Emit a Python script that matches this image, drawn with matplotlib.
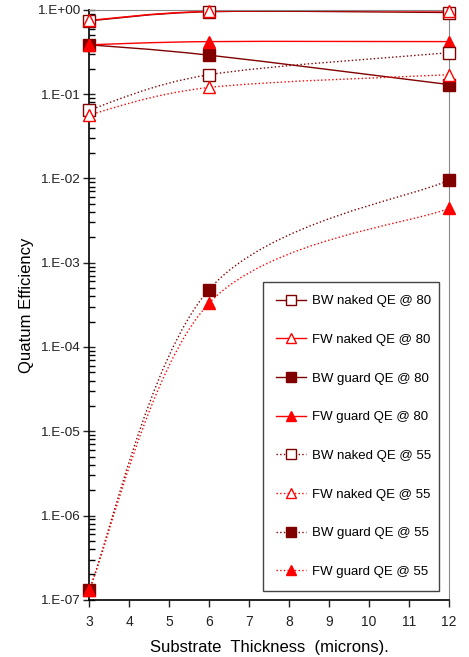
import matplotlib
matplotlib.use("Agg")
import matplotlib.pyplot as plt
from matplotlib.path import Path
from matplotlib.patches import PathPatch
from matplotlib.lines import Line2D
from matplotlib.ticker import FixedLocator, LogLocator, NullFormatter
import numpy as np

plt.rcParams['font.family'] = ['Liberation Sans', 'DejaVu Sans']

thickness = [3, 6, 12]
bw_naked_80 = [0.74, 0.95, 0.93]
fw_naked_80 = [0.75, 0.96, 0.97]
bw_guard_80 = [0.385, 0.29, 0.13]
fw_guard_80 = [0.385, 0.42, 0.42]
bw_naked_55 = [0.065, 0.17, 0.31]
fw_naked_55 = [0.057, 0.12, 0.17]
bw_guard_55 = [1.3e-7, 4.8e-4, 9.5e-3]
fw_guard_55 = [1.3e-7, 3.3e-4, 4.4e-3]

labels = ['BW naked QE @ 80', 'FW naked QE @ 80', 'BW guard QE @ 80', 'FW guard QE @ 80',
          'BW naked QE @ 55', 'FW naked QE @ 55', 'BW guard QE @ 55', 'FW guard QE @ 55']
series = [bw_naked_80, fw_naked_80, bw_guard_80, fw_guard_80,
          bw_naked_55, fw_naked_55, bw_guard_55, fw_guard_55]

dark = '#800000'
red = '#FF0000'
# color, marker, filled, linestyle
styles = [(dark, 's', False, '-'), (red, '^', False, '-'),
          (dark, 's', True, '-'), (red, '^', True, '-'),
          (dark, 's', False, ':'), (red, '^', False, ':'),
          (dark, 's', True, ':'), (red, '^', True, ':')]


def smooth_path(xs, ys):
    # excel style smoothed line: catmull-rom bezier in (x, log y)
    p = np.column_stack([xs, np.log10(ys)])
    verts = [p[0]]
    codes = [Path.MOVETO]
    n = len(p)
    for i in range(n - 1):
        p0 = p[max(i - 1, 0)]
        p1, p2 = p[i], p[i + 1]
        p3 = p[min(i + 2, n - 1)]
        c1 = p1 + (p2 - p0) / 6
        c2 = p2 - (p3 - p1) / 6
        verts += [c1, c2, p2]
        codes += [Path.CURVE4] * 3
    verts = np.array(verts)
    verts[:, 1] = 10 ** verts[:, 1]
    return Path(verts, codes)


fig = plt.figure(figsize=(4.69, 6.57), dpi=100)
ax = fig.add_axes([0.19, 0.087, 0.767, 0.898])
ax.set_yscale('log')
ax.set_xlim(3, 12)
ax.set_ylim(1e-7, 1)

handles = []
for ys, lab, (c, m, filled, ls) in zip(series, labels, styles):
    ax.add_patch(PathPatch(smooth_path(thickness, ys), fill=False, edgecolor=c,
                           linestyle=ls, linewidth=1.0, zorder=2))
    fc = c if filled else 'white'
    ax.plot(thickness, ys, ls='none', marker=m, ms=8.5, mfc=fc, mec=c,
            mew=1.0, zorder=3, clip_on=False)
    handles.append(Line2D([], [], color=c, ls=ls, lw=1.0, marker=m, ms=7,
                          mfc=fc, mec=c, label=lab))

ax.set_xticks(range(3, 13))
ax.yaxis.set_major_locator(FixedLocator([10.0 ** k for k in range(-7, 1)]))
ax.set_yticklabels(['1.E-07', '1.E-06', '1.E-05', '1.E-04', '1.E-03',
                    '1.E-02', '1.E-01', '1.E+00'])
ax.yaxis.set_minor_locator(LogLocator(base=10, subs=np.arange(2, 10)))
ax.yaxis.set_minor_formatter(NullFormatter())
ax.tick_params(axis='y', which='major', direction='inout', length=9, width=1,
               labelsize=9.7, colors='#222222', pad=2)
ax.tick_params(axis='y', which='minor', direction='in', length=4, width=1)
ax.tick_params(axis='x', direction='out', length=5, width=1, labelsize=10,
               colors='#222222', pad=6)

for s in ['top', 'right']:
    ax.spines[s].set_color('#888888')
for s in ['left', 'bottom']:
    ax.spines[s].set_linewidth(1.2)

ax.set_ylabel('Quatum Efficiency', fontsize=12, labelpad=2)
ax.set_xlabel('Substrate  Thickness  (microns).', fontsize=12, labelpad=8)

leg = ax.legend(handles=handles, loc='lower left',
                bbox_to_anchor=(0.483, 0.015, 0.489, 0.524), mode='expand',
                borderaxespad=0, fontsize=9.5, labelspacing=2.0,
                handlelength=2.3, handletextpad=0.45, borderpad=1.0,
                fancybox=False, framealpha=1, edgecolor='#444444')
leg.get_frame().set_linewidth(1.0)

fig.savefig('out.png', dpi=100)
